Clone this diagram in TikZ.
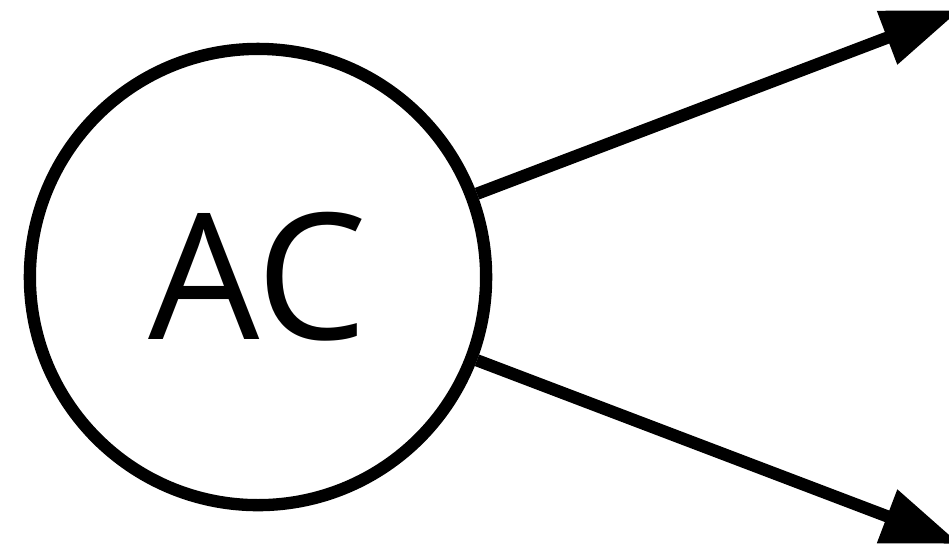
\documentclass[tikz,border=0pt]{standalone}
\usepackage{fontspec}
\setmainfont{Open Sans}
\usetikzlibrary{arrows.meta}
\tikzset{
  % State circle
  statecirc/.style={
    circle, draw=black, line width=3.5pt,
    minimum size=4.56cm, inner sep=0pt,
    font=\fontsize{50}{50}\selectfont
  },
  % Arrows
  arr/.style={-{Triangle[length=0.78cm,width=0.54cm]}, line width=3.5pt},
}
\begin{document}
\begin{tikzpicture}[x=0.01cm, y=-0.01cm]
  \useasboundingbox (0,0) rectangle (949,547);

  \node[statecirc] (ac) at (258,277) {AC};

  \coordinate (up) at (960,10);
  \coordinate (down) at (960,544);

  %% Arrows
  \draw[arr] (ac) -- (up);
  \draw[arr] (ac) -- (down);
\end{tikzpicture}
\end{document}
